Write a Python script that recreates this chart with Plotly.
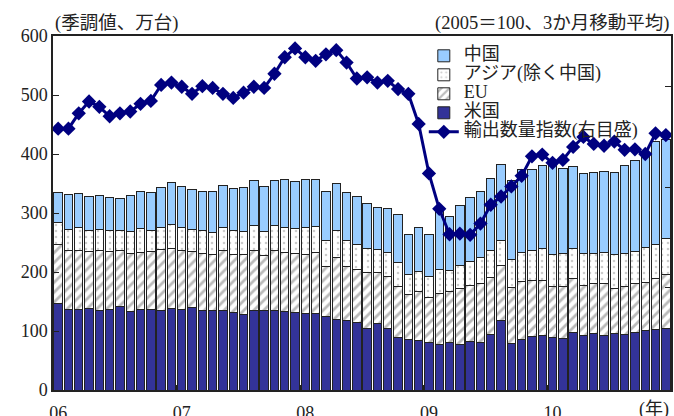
import plotly.graph_objects as go

# monthly, Jan 2006 - Dec 2010
months = list(range(60))
year_ticks = [0, 12, 24, 36, 48]
year_labels = ["06", "07", "08", "09", "10"]

us = [147, 137, 137, 138, 135, 137, 141, 133, 137, 136, 135, 138,
      137, 140, 134, 134, 134, 132, 128, 134, 134, 134, 133, 131,
      129, 130, 124, 120, 117, 115, 105, 112, 104, 89, 86, 84,
      81, 77, 80, 77, 83, 81, 94, 118, 78, 86, 90, 92,
      89, 88, 97, 93, 95, 93, 96, 94, 98, 101, 102, 105]
eu = [100, 99, 100, 96, 101, 97, 96, 99, 96, 98, 103, 102,
      100, 94, 98, 95, 103, 98, 101, 103, 94, 102, 100, 101,
      101, 103, 86, 105, 93, 89, 94, 87, 89, 87, 76, 83,
      76, 87, 87, 95, 94, 99, 97, 93, 95, 98, 95, 94,
      87, 88, 92, 84, 85, 87, 76, 82, 83, 82, 87, 91]
asia = [37, 36, 38, 37, 36, 37, 34, 37, 40, 37, 37, 40,
        38, 38, 39, 38, 39, 41, 40, 41, 40, 42, 43, 41,
        45, 44, 44, 45, 44, 42, 41, 39, 40, 40, 33, 34,
        35, 41, 36, 39, 41, 45, 45, 43, 49, 49, 52, 54,
        53, 55, 51, 54, 52, 53, 57, 55, 54, 58, 58, 61]
china = [51, 59, 58, 57, 57, 55, 54, 61, 63, 64, 68, 72,
         70, 68, 66, 70, 70, 71, 74, 77, 77, 77, 81, 81,
         82, 80, 83, 80, 81, 82, 76, 71, 75, 81, 69, 74,
         71, 100, 91, 101, 108, 111, 122, 128, 133, 141, 136, 141,
         151, 145, 139, 136, 136, 138, 140, 149, 154, 159, 174, 167]
# export volume index, read against the left scale
export_index = [443, 443, 469, 489, 480, 464, 469, 472, 485, 490, 517, 521,
                514, 502, 515, 512, 502, 495, 504, 514, 512, 536, 564, 579,
                564, 558, 569, 576, 555, 528, 530, 521, 524, 510, 502, 451,
                367, 307, 264, 265, 263, 282, 314, 328, 345, 363, 396, 399,
                385, 390, 412, 429, 417, 414, 421, 407, 408, 400, 435, 432]

FONT = "Liberation Serif, Noto Sans CJK JP, serif"
edge = dict(color="#222222", width=1)


def big(label):
    # legend rows are spaced by the (small) legend font, text drawn larger
    return '<span style="font-size:18px">' + label + "</span>"


fig = go.Figure()
fig.add_trace(go.Bar(x=months, y=us, name=big("米国"), legendrank=4,
                     marker=dict(color="#333399", line=edge)))
fig.add_trace(go.Bar(x=months, y=eu, name=big("EU"), legendrank=3,
                     marker=dict(color="white", line=edge,
                                 pattern=dict(shape="/", fgcolor="#777777", bgcolor="white",
                                              size=7, solidity=0.4))))
fig.add_trace(go.Bar(x=months, y=asia, name=big("アジア(除く中国)"), legendrank=2,
                     marker=dict(color="white", line=edge,
                                 pattern=dict(shape=".", fgcolor="#999999", bgcolor="white",
                                              size=6, solidity=0.15))))
fig.add_trace(go.Bar(x=months, y=china, name=big("中国"), legendrank=1,
                     marker=dict(color="#99CCFF", line=edge)))
fig.add_trace(go.Scatter(x=months, y=export_index, name=big("輸出数量指数(右目盛)"), legendrank=5,
                         yaxis="y2", mode="lines+markers",
                         line=dict(color="#000080", width=3),
                         marker=dict(symbol="diamond", size=11, color="#000080")))

fig.update_layout(
    width=674, height=416,
    margin=dict(l=53, r=3, t=36, b=26, autoexpand=False),
    paper_bgcolor="white", plot_bgcolor="white",
    barmode="stack", bargap=0.18,
    font=dict(family=FONT, size=18, color="#222222"),
    showlegend=True,
    legend=dict(x=0.6, y=0.985, xanchor="left", yanchor="top",
                traceorder="normal", tracegroupgap=0,
                bgcolor="rgba(255,255,255,0)", font=dict(size=12)),
    xaxis=dict(range=[-0.5, 59.5], tickvals=year_ticks, ticktext=year_labels,
               ticks="", ticklabelstandoff=6, showline=True, linecolor="#222222",
               linewidth=1.5, mirror=True, showgrid=False, zeroline=False, automargin=False,
               minor=dict(tick0=-0.5, dtick=12, ticks="inside", ticklen=5,
                          tickcolor="#222222", showgrid=False)),
    yaxis=dict(range=[0, 600], tickvals=[0, 100, 200, 300, 400, 500, 600],
               ticks="inside", ticklen=6, tickcolor="#222222",
               showline=True, linecolor="#222222", linewidth=1.5, mirror=True,
               showgrid=False, zeroline=False, automargin=False),
    yaxis2=dict(range=[0, 600], overlaying="y", side="right",
                tickvals=[173, 344, 515], ticks="inside", ticklen=6,
                tickcolor="#222222", showticklabels=False, automargin=False,
                showgrid=False, zeroline=False),
    annotations=[
        dict(text="(季調値、万台)", x=0, y=1.035, xref="paper", yref="paper",
             xanchor="left", yanchor="middle", showarrow=False, font=dict(size=18.5)),
        dict(text="(2005＝100、3か月移動平均)", x=1, y=1.035, xref="paper", yref="paper",
             xanchor="right", yanchor="middle", showarrow=False, font=dict(size=18.5)),
        dict(text="(年)", x=1, y=-0.02, xref="paper", yref="paper",
             xanchor="right", yanchor="top", showarrow=False, font=dict(size=18)),
    ],
)

fig.write_html("out.html", config={"displayModeBar": False},
               post_script="document.body.style.margin='0px';")
